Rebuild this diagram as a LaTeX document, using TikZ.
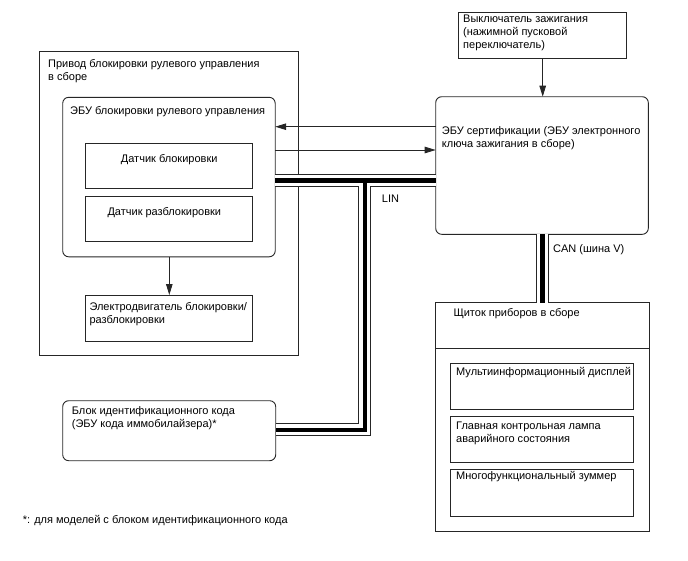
\documentclass[tikz,border=0pt]{standalone}
\usepackage{fontspec}
\setmainfont{Liberation Sans}
\usetikzlibrary{arrows.meta}
\begin{document}
\begin{tikzpicture}[x=1pt,y=-1pt,
  box/.style={draw=black!85,line width=0.9pt,anchor=north west,inner sep=0pt,outer sep=0pt},
  rbox/.style={box,rounded corners=6pt},
  txt/.style={anchor=base west,inner sep=0pt,font=\fontsize{11}{13}\selectfont,align=left},
  arr/.style={draw=black!85,line width=0.9pt,-{Triangle[length=11pt,width=6.5pt]}},
  busA/.style={line width=13pt,black!85},
  busB/.style={line width=11pt,white},
  busC/.style={line width=4.6pt,black},
]
\useasboundingbox (0,0) rectangle (688,560);
% steering lock actuator assembly
\node[box,minimum width=259pt,minimum height=304pt] (act) at (39,51.5) {};
\node[txt] (actT) at (48,80) {Привод блокировки рулевого управления\\в сборе};
\node[rbox,minimum width=212.5pt,minimum height=159.5pt] (secu) at (62.7,97.3) {};
\node[txt] (secuT) at (70,114.5) {ЭБУ блокировки рулевого управления};
\node[box,minimum width=167.7pt,minimum height=45pt] (s1) at (85,143.3) {};
\node[txt] (s1T) at (120.7,162) {Датчик блокировки};
\node[box,minimum width=167.7pt,minimum height=45.7pt] (s2) at (85,196) {};
\node[txt] (s2T) at (107.3,215) {Датчик разблокировки};
\node[box,minimum width=167.7pt,minimum height=46pt] (mot) at (85,295) {};
\node[txt] (motT) at (89.3,323.7) {Электродвигатель блокировки/\\разблокировки};
% ignition switch
\node[box,minimum width=168.4pt,minimum height=46pt] (ign) at (458.3,12.3) {};
\node[txt] (ignT) at (463,48.7) {Выключатель зажигания\\(нажимной пусковой\\переключатель)};
% certification ECU
\node[rbox,minimum width=212.6pt,minimum height=137.6pt] (cert) at (435.7,96.7) {};
\node[txt] (certT) at (441.7,147.3) {ЭБУ сертификации (ЭБУ электронного\\ключа зажигания в сборе)};
% immobilizer
\node[rbox,minimum width=213pt,minimum height=60pt] (imm) at (62.7,400.7) {};
\node[txt] (immT) at (71.7,427) {Блок идентификационного кода\\(ЭБУ кода иммобилайзера)*};
% combination meter
\node[box,minimum width=214pt,minimum height=229pt] (cl) at (435,302.7) {};
\draw[draw=black!85,line width=0.9pt] (cl.west |- 0,348.3) coordinate (dl) -- (cl.east |- dl);
\node[txt] (clT) at (453.3,316.7) {Щиток приборов в сборе};
\node[box,minimum width=183.4pt,minimum height=46pt] (c1) at (450.3,363.3) {};
\node[txt] (c1T) at (456,375.5) {Мультиинформационный дисплей};
\node[box,minimum width=183.4pt,minimum height=45.6pt] (c2) at (450.3,416.7) {};
\node[txt] (c2T) at (456,442.5) {Главная контрольная лампа\\аварийного состояния};
\node[box,minimum width=183.4pt,minimum height=46.7pt] (c3) at (450.3,469.3) {};
\node[txt] (c3T) at (456,479.5) {Многофункциональный зуммер};
% labels
\node[txt] (lin) at (381.7,202) {LIN};
\node[txt] (can) at (553,252) {CAN (шина V)};
\node[txt] (foot) at (22.7,523.3) {*: для моделей с блоком идентификационного кода};
% arrows
\coordinate (ya) at (0,126.7);
\coordinate (yb) at (0,150);
\draw[arr] (cert.west |- ya) -- (secu.east |- ya);
\draw[arr] (secu.east |- yb) -- (cert.west |- yb);
\draw[arr] (ign.south -| 542.7,0) -- (cert.north -| 542.7,0);
\draw[arr] (secu.south -| 169.3,0) -- (mot.north -| 169.3,0);
% buses
\coordinate (yl) at (0,180.2);
\coordinate (xl) at (364.8,0);
\coordinate (yi) at (0,429.8);
\coordinate (xc) at (542.3,0);
\foreach \s in {busA,busB,busC}{
  \draw[\s] (secu.east |- yl) -- (cert.west |- yl);
  \draw[\s] (xl |- yl) -- (xl |- yi) -- (imm.east |- yi);
  \draw[\s] (cert.south -| xc) -- (cl.north -| xc);
}
\end{tikzpicture}
\end{document}
